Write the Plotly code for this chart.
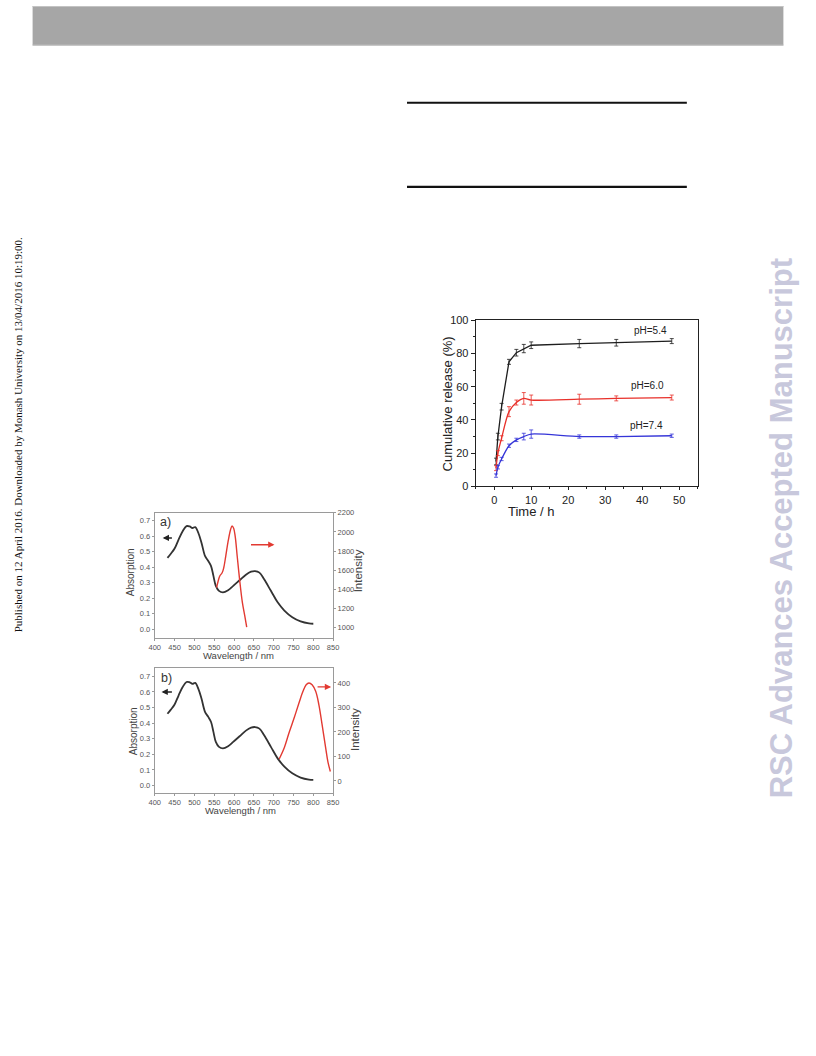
import plotly.graph_objects as go

# page is 816x1056; post_script removes the default body margin so the figure
# sits at the page origin (height kept below the page so it never overflows).
W, H = 816, 1040

# ---------------- data: cumulative release ----------------
time_h = [0.5, 1, 2, 4, 6, 8, 10, 23, 33, 48]
rel_ph54 = [15, 30, 48, 75, 80.5, 83, 85, 86, 86.5, 87.5]
err_ph54 = [2, 2, 2, 1.5, 2, 2.5, 2, 2.5, 2, 1.5]
rel_ph60 = [11, 20, 29, 45, 50.5, 53, 52, 52.5, 53, 53.5]
err_ph60 = [1.5, 1.5, 1.5, 3, 1.5, 3.5, 3, 3, 1.5, 1.5]
rel_ph74 = [6.5, 11.5, 16.5, 24.5, 28, 30, 31.5, 30, 30, 30.5]
err_ph74 = [1, 1, 1, 1, 1, 2, 2.5, 1, 1, 1]
ph_labels = ["pH=5.4", "pH=6.0", "pH=7.4"]

# ---------------- data: absorption (shared) ----------------
wl_abs = [432, 440, 450, 460, 470, 480, 488, 495, 502, 510, 518, 527, 535, 542,
          548, 554, 562, 572, 585, 598, 614, 630, 643, 653, 664, 676, 693, 710,
          727, 747, 768, 789, 800]
absorb = [0.46, 0.485, 0.52, 0.577, 0.63, 0.664, 0.662, 0.652, 0.658, 0.62, 0.556,
          0.471, 0.44, 0.407, 0.344, 0.28, 0.248, 0.238, 0.252, 0.28, 0.316, 0.352,
          0.371, 0.375, 0.365, 0.322, 0.248, 0.174, 0.121, 0.078, 0.051, 0.038, 0.036]

# ---------------- data: emission a) ----------------
wl_em_a = [556, 560, 564, 570, 574, 579, 585, 591, 595, 599, 603, 608, 614, 621, 627, 632]
em_a = [1419, 1488, 1540, 1574, 1626, 1746, 1901, 2021, 2062, 2038, 1952, 1746, 1505,
        1265, 1127, 1007]

# ---------------- data: emission b) ----------------
wl_em_b = [714, 727, 739, 752, 764, 774, 782, 789, 797, 806, 814, 822, 831, 837, 843]
em_b = [90, 137, 198, 259, 319, 366, 393, 400, 393, 366, 312, 232, 137, 77, 39]

FONT = "Liberation Sans, Arial, sans-serif"


def px(x):
    return x / W


def py(y):
    return 1 - y / H


fig = go.Figure()

# release curves
for vals, errs, col, shape in [(rel_ph54, err_ph54, "#1e1e1e", "linear"),
                               (rel_ph60, err_ph60, "#e8302a", "spline"),
                               (rel_ph74, err_ph74, "#3535d8", "spline")]:
    fig.add_trace(go.Scatter(
        x=time_h, y=vals, mode="lines", xaxis="x", yaxis="y",
        line=dict(color=col, width=1.3, shape=shape, smoothing=0.8),
        error_y=dict(type="data", array=errs, color=col, thickness=0.8, width=2),
        showlegend=False))

# chart a
fig.add_trace(go.Scatter(x=wl_abs, y=absorb, mode="lines", xaxis="x2", yaxis="y2",
                         line=dict(color="#333333", width=1.8, shape="spline", smoothing=1),
                         showlegend=False))
fig.add_trace(go.Scatter(x=wl_em_a, y=em_a, mode="lines", xaxis="x2", yaxis="y3",
                         line=dict(color="#e23a32", width=1.4, shape="spline", smoothing=1),
                         showlegend=False))
# chart b
fig.add_trace(go.Scatter(x=wl_abs, y=absorb, mode="lines", xaxis="x3", yaxis="y4",
                         line=dict(color="#333333", width=1.8, shape="spline", smoothing=1),
                         showlegend=False))
fig.add_trace(go.Scatter(x=wl_em_b, y=em_b, mode="lines", xaxis="x3", yaxis="y5",
                         line=dict(color="#e23a32", width=1.4, shape="spline", smoothing=1),
                         showlegend=False))

rel_tick = dict(family=FONT, size=11, color="#222222")
spec_tick = dict(family=FONT, size=7.5, color="#555555")

spec_x = dict(range=[400, 850], dtick=50, tick0=400, showgrid=False, zeroline=False,
              showline=True, linecolor="#9a9a9a", linewidth=1, mirror=True,
              ticks="outside", ticklen=2, tickcolor="#9a9a9a", tickfont=spec_tick)
spec_yl = dict(showgrid=False, zeroline=False, showline=True, linecolor="#9a9a9a",
               linewidth=1, mirror=True, ticks="outside", ticklen=2, tickcolor="#9a9a9a",
               tickfont=spec_tick, dtick=0.1, tick0=0, tickformat=".1f")
spec_yr = dict(showgrid=False, zeroline=False, showline=False, ticks="outside",
               ticklen=2, tickcolor="#9a9a9a", tickfont=spec_tick, side="right")

fig.update_layout(
    width=W, height=H, autosize=False,
    margin=dict(l=0, r=0, t=0, b=0),
    paper_bgcolor="white", plot_bgcolor="rgba(0,0,0,0)",
    xaxis=dict(domain=[px(476.7), px(702)], range=[-5, 55], anchor="y",
               dtick=10, tick0=0, showgrid=False, zeroline=False,
               showline=True, linecolor="#222", linewidth=1, mirror=True,
               ticks="outside", ticklen=3, tickcolor="#222", tickfont=rel_tick,
               minor=dict(dtick=5, tick0=0, ticks="outside", ticklen=2, tickcolor="#222")),
    yaxis=dict(domain=[py(486), py(318)], range=[0, 100], anchor="x",
               dtick=20, tick0=0, showgrid=False, zeroline=False,
               showline=True, linecolor="#222", linewidth=1, mirror=True,
               ticks="outside", ticklen=4, tickcolor="#222", tickfont=rel_tick,
               minor=dict(dtick=10, tick0=0, ticks="outside", ticklen=2, tickcolor="#222")),
    xaxis2=dict(domain=[px(151), px(332)], anchor="y2", **spec_x),
    yaxis2=dict(domain=[py(639.3), py(512.7)], range=[-0.055, 0.75], anchor="x2", **spec_yl),
    yaxis3=dict(overlaying="y2", anchor="x2", range=[894, 2200], dtick=200, tick0=1000, **spec_yr),
    xaxis3=dict(domain=[px(151), px(332)], anchor="y4", **spec_x),
    yaxis4=dict(domain=[py(795.7), py(670)], range=[-0.045, 0.752], anchor="x3", **spec_yl),
    yaxis5=dict(overlaying="y4", anchor="x3", range=[-47, 460], dtick=100, tick0=0, **spec_yr),
)

shapes = [
    dict(type="rect", xref="paper", yref="paper", x0=px(27), x1=px(789), y0=py(40), y1=py(0),
         fillcolor="#a6a6a6", line=dict(width=0), layer="below"),
    dict(type="line", xref="paper", yref="paper", x0=px(27), x1=px(789), y0=py(0.5), y1=py(0.5),
         line=dict(color="#c4c4c4", width=1)),
    dict(type="line", xref="paper", yref="paper", x0=px(27), x1=px(789), y0=py(39.5), y1=py(39.5),
         line=dict(color="#bdbdbd", width=1)),
    dict(type="line", xref="paper", yref="paper", x0=px(407), x1=px(691), y0=py(98), y1=py(98),
         line=dict(color="#111111", width=2)),
    dict(type="line", xref="paper", yref="paper", x0=px(407), x1=px(691), y0=py(183), y1=py(183),
         line=dict(color="#111111", width=2.4)),
]
fig.update_layout(shapes=shapes)

C = dict(xanchor="center", yanchor="middle", showarrow=False)
ann = []
# release chart text
ann.append(dict(text="Cumulative release (%)", xref="paper", yref="paper", x=px(447.7), y=py(403),
                textangle=-90, font=dict(family=FONT, size=13, color="#222"), **C))
ann.append(dict(text="Time / h", xref="paper", yref="paper", x=px(533), y=py(511.5),
                font=dict(family=FONT, size=13, color="#222"), **C))
for lab, xx, yy in zip(ph_labels, [42.2, 41.5, 41.2], [94, 60.7, 36.9]):
    ann.append(dict(text=lab, xref="x", yref="y", x=xx, y=yy,
                    font=dict(family=FONT, size=10, color="#222"), **C))

spec_title = dict(family=FONT, size=10, color="#444")
# chart a text
ann.append(dict(text="a)", xref="x2", yref="y2", x=427.5, y=0.69,
                font=dict(family=FONT, size=12.5, color="#333"), **C))
ann.append(dict(text="Absorption", xref="paper", yref="paper", x=px(126.7), y=py(573),
                textangle=-90, font=spec_title, **C))
ann.append(dict(text="Intensity", xref="paper", yref="paper", x=px(357.5), y=py(571.7),
                textangle=-90, font=dict(family=FONT, size=11.5, color="#444"), **C))
ann.append(dict(text="Wavelength / nm", xref="paper", yref="paper", x=px(236), y=py(657.5),
                font=dict(family=FONT, size=9.5, color="#444"), **C))
# chart b text
ann.append(dict(text="b)", xref="x3", yref="y4", x=429, y=0.689,
                font=dict(family=FONT, size=12.5, color="#333"), **C))
ann.append(dict(text="Absorption", xref="paper", yref="paper", x=px(129.3), y=py(733.3),
                textangle=-90, font=spec_title, **C))
ann.append(dict(text="Intensity", xref="paper", yref="paper", x=px(354), y=py(731.7),
                textangle=-90, font=dict(family=FONT, size=11.5, color="#444"), **C))
ann.append(dict(text="Wavelength / nm", xref="paper", yref="paper", x=px(238.3), y=py(813.5),
                font=dict(family=FONT, size=9.5, color="#444"), **C))

# arrows
def arrow(xr, yr, x, y, ax, ay, col):
    return dict(text="", xref=xr, yref=yr, axref=xr, ayref=yr, x=x, y=y, ax=ax, ay=ay,
                showarrow=True, arrowhead=2, arrowsize=0.9, arrowwidth=1.4, arrowcolor=col)

ann.append(arrow("x2", "y2", 420, 0.588, 447, 0.588, "#222"))
ann.append(arrow("x2", "y3", 702, 1867, 639, 1867, "#e23a32"))
ann.append(arrow("x3", "y4", 417, 0.6, 447, 0.6, "#222"))
ann.append(arrow("x3", "y5", 845, 384, 807, 384, "#e23a32"))

# side texts
ann.append(dict(text="Published on 12 April 2016. Downloaded by Monash University on 13/04/2016 10:19:00.",
                xref="paper", yref="paper", x=px(13), y=py(433.5), textangle=-90,
                font=dict(family="Liberation Serif, Times New Roman, serif", size=11, color="#111"), **C))
ann.append(dict(text="<b>RSC Advances Accepted Manuscript</b>", xref="paper", yref="paper",
                x=px(787), y=py(528), textangle=-90,
                font=dict(family=FONT, size=31, color="#c8c8dc"), **C))

fig.update_layout(annotations=ann)

fig.write_html("out.html", config={"displayModeBar": False, "responsive": False},
               post_script="document.body.style.margin='0';")
